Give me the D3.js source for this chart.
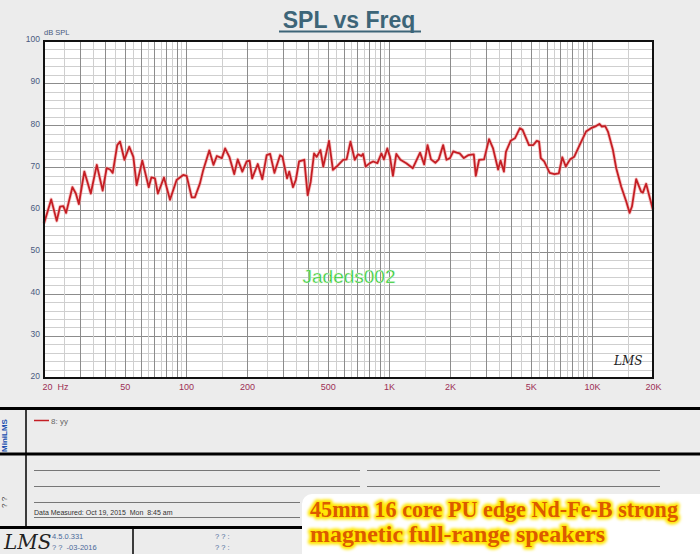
<!DOCTYPE html>
<html>
<head>
<meta charset="utf-8">
<script src="https://cdn.jsdelivr.net/npm/d3@7"></script>
<style>
    body { margin: 0; background: #ececec; }
    svg { display: block; }
</style>
</head>
<body>
<div id="chart"></div>
<script>
// measured curve
const freqs = [20, 21.7, 23.1, 24.0, 24.9, 25.7, 27.6, 28.7, 29.7, 31.6, 34.0, 36.4, 38.9, 40.7, 42.3, 43.6,
    45.9, 47.4, 49.8, 52.6, 55.1, 57.2, 61.0, 65.6, 67.6, 70.4, 72.8, 78.0, 83.5, 90.0, 97.0, 100.8,
    106.8, 110.8, 117.3, 121.8, 130.4, 136.7, 142.1, 150.3, 156, 163.7, 173, 180, 189.7, 199.3, 206,
    212, 226, 238, 250, 260, 273, 291, 299, 315, 323, 337, 348, 361, 383, 398, 412, 428, 441, 460, 475,
    507, 530, 553, 595, 619, 647, 679, 705, 732, 746, 768, 806, 836, 878, 918, 945, 982, 1012, 1047,
    1088, 1140, 1218, 1312, 1424, 1492, 1550, 1612, 1694, 1760, 1850, 1922, 2000, 2076,
    2156, 2232, 2340, 2458, 2620, 2680, 2782, 2944, 3114, 3260, 3452, 3548, 3686, 3772, 3978, 4176,
    4420, 4556, 4898, 5144, 5348, 5492, 5602, 5822, 6194, 6544, 6874, 7150, 7432, 7812, 8180, 8664,
    9356, 9900, 10486, 10890, 11194, 11632, 11998, 12698, 13180, 13950, 14766, 15334, 15754, 16526,
    17492, 17834, 18498, 19972]
const spl = [56.7, 62.4, 57.3, 60.7, 60.8, 59.2, 65.3, 63.8, 61.3, 69.0, 63.8, 70.6, 64.5, 69.8, 69.5, 68.7,
    75.3, 76.1, 71.8, 74.9, 72.5, 65.8, 71.6, 65.3, 67.6, 67.4, 63.8, 67.6, 62.3, 67.0, 68.2, 68.0,
    62.9, 62.9, 66.2, 69.4, 74.0, 70.6, 72.7, 72.2, 74.5, 72.5, 68.4, 71.9, 69.0, 71.4, 71.6,
    67.4, 70.8, 67.2, 72.9, 73.2, 68.7, 72.9, 72.5, 67.4, 69.0, 65.3, 67.0, 71.4, 71.8, 63.4, 66.6, 73.3, 72.5, 74.1, 70.2,
    76.3, 69.4, 70.2, 71.8, 71.9, 76.1, 71.8, 73.1, 72.7, 73.2, 70.2, 71.0, 71.4, 71.0, 73.3, 71.9, 74.5, 72.5, 68.0,
    73.2, 71.8, 71.0, 69.8, 73.5, 70.7, 75.3, 71.9, 71.1, 71.9, 75.3, 71.8, 72.2, 73.8,
    73.5, 73.3, 72.2, 72.9, 73.1, 68.0, 71.8, 71.9, 76.7, 74.5, 69.5, 71.6, 69.0, 73.7, 76.3, 76.9,
    79.3, 78.9, 75.3, 75.3, 76.3, 76.1, 72.2, 71.4, 68.7, 68.4, 68.6, 72.4, 70.2, 71.9, 72.5, 75.1,
    78.5, 79.3, 79.8, 80.3, 79.7, 79.8, 78.5, 74.1, 69.8, 65.4, 61.9, 59.2, 60.7, 67.2,
    64.2, 64.0, 66.1, 60.0]

const xTickVals = [20, 50, 100, 200, 500, 1000, 2000, 5000, 10000, 20000]
const xTickLabels = ["20  Hz", "50", "100", "200", "500", "1K", "2K", "5K", "10K", "20K"]
const yTickVals = [20, 30, 40, 50, 60, 70, 80, 90, 100]

const W = 700, H = 554
let margin = {top: 41, left: 44},
    width = 609,
    height = 337

let svg = d3.select("#chart").append("svg")
    .attr("width", W)
    .attr("height", H)
    .style("font-family", "'Liberation Sans', Arial, sans-serif")

svg.append("rect").attr("width", W).attr("height", H).attr("fill", "#ececec")

let x = d3.scaleLog().domain([20, 20000]).range([0, width])
let y = d3.scaleLinear().domain([20, 100]).range([height, 0])

// title
svg.append("text")
    .attr("x", 349).attr("y", 28)
    .attr("text-anchor", "middle")
    .attr("fill", "#3d6578")
    .style("font-size", "23px")
    .style("font-weight", "bold")
    .text("SPL vs Freq")
svg.append("line")
    .attr("x1", 279).attr("x2", 421).attr("y1", 31.5).attr("y2", 31.5)
    .attr("stroke", "#3d6578").attr("stroke-width", 2)

let g = svg.append("g").attr("transform", "translate(" + margin.left + "," + margin.top + ")")

g.append("rect").attr("width", width).attr("height", height).attr("fill", "#fff")

// grid: every half step in each decade, whole steps darker
let vGrid = []
for (let d of [10, 100, 1000, 10000]) {
    for (let m = 1; m < 10; m += 0.5) {
        let f = m * d
        if (f > 20 && f < 20000) vGrid.push({f: f, major: Number.isInteger(m)})
    }
}
let hGrid = d3.range(22, 100, 2)

g.selectAll(".hgrid").data(hGrid).enter().append("line")
    .attr("class", "hgrid")
    .attr("x1", 0).attr("x2", width)
    .attr("y1", d => Math.round(y(d)) + 0.5).attr("y2", d => Math.round(y(d)) + 0.5)
    .attr("stroke", d => d % 10 === 0 ? "#8c8c8c" : "#cfcfcf")
    .attr("stroke-width", 1)

g.selectAll(".vgrid").data(vGrid).enter().append("line")
    .attr("class", "vgrid")
    .attr("y1", 0).attr("y2", height)
    .attr("x1", d => Math.round(x(d.f)) + 0.5).attr("x2", d => Math.round(x(d.f)) + 0.5)
    .attr("stroke", d => d.major ? "#8c8c8c" : "#cfcfcf")
    .attr("stroke-width", 1)

// curve
let line = d3.line()
    .x((d, i) => x(freqs[i]))
    .y(d => y(d))

g.append("path")
    .datum(spl)
    .attr("fill", "none")
    .attr("stroke", "#f2a0a0")
    .attr("stroke-width", 3.5)
    .attr("stroke-linejoin", "round")
    .attr("opacity", 0.6)
    .attr("d", line)
g.append("path")
    .datum(spl)
    .attr("fill", "none")
    .attr("stroke", "#c41e24")
    .attr("stroke-width", 1.8)
    .attr("stroke-linejoin", "round")
    .attr("d", line)

g.append("rect").attr("width", width).attr("height", height)
    .attr("fill", "none").attr("stroke", "#111").attr("stroke-width", 2)

// axes
let xAxis = d3.axisBottom(x).tickValues(xTickVals)
    .tickFormat((d, i) => xTickLabels[i]).tickSize(0).tickPadding(6)
let xg = g.append("g").attr("transform", "translate(0," + height + ")").call(xAxis)
xg.select(".domain").remove()
xg.selectAll("text")
    .attr("fill", "#9c2f55")
    .style("font-size", "9px")
    .attr("text-anchor", (d, i) => i === 0 ? "start" : "middle")
    .attr("dx", (d, i) => i === 0 ? -2 : 0)
    .style("white-space", "pre")

let yAxis = d3.axisLeft(y).tickValues(yTickVals).tickSize(0).tickPadding(4)
let yg = g.append("g").call(yAxis)
yg.select(".domain").remove()
yg.selectAll("text").attr("fill", "#4a5a80").style("font-size", "8.5px").attr("dy", "0.1em")

g.append("text").attr("x", 0).attr("y", -6)
    .attr("fill", "#4a5a80").style("font-size", "7.5px").text("dB SPL")

// logo in plot corner
g.append("text").attr("x", width - 39).attr("y", height - 13)
    .style("font-family", "'DejaVu Serif', serif").style("font-style", "italic")
    .style("font-size", "12px").attr("fill", "#222").text("LMS")

// watermark
svg.append("text")
    .attr("x", 349).attr("y", 283)
    .attr("text-anchor", "middle")
    .attr("fill", "#27c627")
    .attr("stroke", "#d8f5d8").attr("stroke-width", 0.5)
    .style("font-size", "19px")
    .text("Jadeds002")

// lower info panel
let p = svg.append("g")
p.append("line").attr("x1", 0).attr("x2", W).attr("y1", 408.5).attr("y2", 408.5).attr("stroke", "#000").attr("stroke-width", 3)
p.append("line").attr("x1", 0).attr("x2", W).attr("y1", 454).attr("y2", 454).attr("stroke", "#000").attr("stroke-width", 3)
p.append("line").attr("x1", 0).attr("x2", W).attr("y1", 527.5).attr("y2", 527.5).attr("stroke", "#000").attr("stroke-width", 3)
p.append("line").attr("x1", 26).attr("x2", 26).attr("y1", 408).attr("y2", 527).attr("stroke", "#000").attr("stroke-width", 1.5)
p.append("line").attr("x1", 133).attr("x2", 133).attr("y1", 527).attr("y2", H).attr("stroke", "#000").attr("stroke-width", 1.5)

// legend
p.append("line").attr("x1", 34).attr("x2", 49).attr("y1", 420.5).attr("y2", 420.5).attr("stroke", "#c41e24").attr("stroke-width", 1.5)
p.append("text").attr("x", 51).attr("y", 423.5).attr("fill", "#666").style("font-size", "8px").text("8: yy")

// notes lines
for (let ly of [470.5, 486.5]) {
    p.append("line").attr("x1", 34).attr("x2", 360).attr("y1", ly).attr("y2", ly).attr("stroke", "#777")
    p.append("line").attr("x1", 367).attr("x2", 660).attr("y1", ly).attr("y2", ly).attr("stroke", "#777")
}
p.append("line").attr("x1", 34).attr("x2", 300).attr("y1", 502.5).attr("y2", 502.5).attr("stroke", "#777")
p.append("line").attr("x1", 34).attr("x2", 300).attr("y1", 517.5).attr("y2", 517.5).attr("stroke", "#777")
p.append("text").attr("x", 34).attr("y", 515).attr("fill", "#333")
    .style("font-size", "7px").style("white-space", "pre")
    .text("Data Measured: Oct 19, 2015  Mon  8:45 am")

// side labels (rotated, clipped by page edge)
p.append("text").attr("transform", "translate(7,452) rotate(-90)")
    .attr("fill", "#2050b0").style("font-size", "8px").style("font-weight", "bold").text("MiniLMS")
p.append("text").attr("transform", "translate(7,508) rotate(-90)")
    .attr("fill", "#444").style("font-size", "8px").text("? ?")

// footer
p.append("text").attr("x", 4).attr("y", 549)
    .style("font-family", "'DejaVu Serif', serif").style("font-style", "italic")
    .style("font-size", "20px").attr("fill", "#222").text("LMS")
p.append("text").attr("x", 52).attr("y", 539).attr("fill", "#4a6a9a").style("font-size", "7.5px").text("4.5.0.331")
p.append("text").attr("x", 52).attr("y", 550).attr("fill", "#4a6a9a").style("font-size", "7.5px")
    .style("white-space", "pre").text("? ?  -03-2016")
p.append("text").attr("x", 215).attr("y", 539).attr("fill", "#4a6a9a").style("font-size", "7.5px").text("? ? :")
p.append("text").attr("x", 215).attr("y", 550).attr("fill", "#4a6a9a").style("font-size", "7.5px").text("? ? :")

// caption box
let defs = svg.append("defs")
let glow = defs.append("filter").attr("id", "glow").attr("x", "-10%").attr("y", "-30%").attr("width", "120%").attr("height", "160%")
glow.append("feGaussianBlur").attr("stdDeviation", 1.6)

p.append("rect").attr("x", 302).attr("y", 494).attr("width", 410).attr("height", 70)
    .attr("rx", 10).attr("fill", "#fff")

const captionLines = ["45mm 16 core PU edge Nd-Fe-B strong", "magnetic full-range speakers"]
const captionLen = [368, 295]
captionLines.forEach(function (t, i) {
    let ty = 517 + i * 25
    p.append("text").attr("x", 310).attr("y", ty)
        .attr("textLength", captionLen[i]).attr("lengthAdjust", "spacingAndGlyphs")
        .style("font-family", "'Liberation Serif', serif").style("font-size", "23px").style("font-weight", "bold")
        .attr("fill", "#ffee00").attr("stroke", "#ffe600").attr("stroke-width", 5)
        .attr("stroke-linejoin", "round").attr("filter", "url(#glow)")
        .text(t)
    p.append("text").attr("x", 310).attr("y", ty)
        .attr("textLength", captionLen[i]).attr("lengthAdjust", "spacingAndGlyphs")
        .style("font-family", "'Liberation Serif', serif").style("font-size", "23px").style("font-weight", "bold")
        .attr("fill", "#dc5a00")
        .text(t)
})
</script>
</body>
</html>
